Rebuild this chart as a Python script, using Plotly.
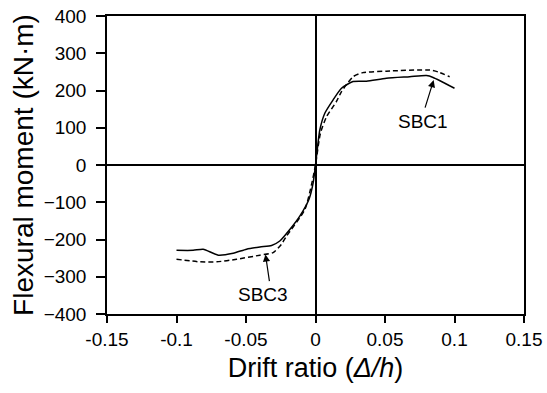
import plotly.graph_objects as go

# SBC1 (solid)
sbc1_x = [-0.100, -0.088, -0.0808, -0.070, -0.0592, -0.0496, -0.040, -0.0316, -0.0257,
          -0.0185, -0.0113, -0.0046, -0.0017, 0.0, 0.0031, 0.0067, 0.0127, 0.0187,
          0.027, 0.0367, 0.051, 0.0678, 0.0798, 0.0846, 0.100]
sbc1_y = [-229, -229, -226, -242, -237, -226, -220, -216, -204,
          -173, -137, -91, -48, 0, 94, 139, 175, 206,
          224, 225, 233, 237, 240, 235, 206]

# SBC3 (dashed)
sbc3_x = [-0.100, -0.083, -0.071, -0.0568, -0.040, -0.0305, -0.0245, -0.0209, -0.0077,
          -0.0030, 0.0, 0.0035, 0.0080, 0.015, 0.0187, 0.027, 0.034, 0.051, 0.0822,
          0.088, 0.0965]
sbc3_y = [-253, -260, -260, -253, -242, -235, -213, -191, -120,
          -55, 0, 85, 130, 170, 197, 237, 248, 252, 255,
          250, 237]

x_ticks = [-0.15, -0.1, -0.05, 0, 0.05, 0.1, 0.15]
x_tick_labels = ["-0.15", "-0.1", "-0.05", "0", "0.05", "0.1", "0.15"]
y_ticks = [-400, -300, -200, -100, 0, 100, 200, 300, 400]

font_family = "Liberation Sans, Arial, sans-serif"

fig = go.Figure()
fig.add_trace(go.Scatter(x=sbc1_x, y=sbc1_y, mode="lines", name="SBC1",
                         line=dict(color="black", width=1.5, shape="spline", smoothing=0.6)))
fig.add_trace(go.Scatter(x=sbc3_x, y=sbc3_y, mode="lines", name="SBC3",
                         line=dict(color="black", width=1.5, dash="5px,3px", shape="spline", smoothing=0.6)))

# labels and arrows
fig.add_annotation(x=0.0774, y=117, text="SBC1", showarrow=False,
                   font=dict(size=19, color="black", family=font_family))
fig.add_annotation(x=0.085, y=228, ax=0.0785, ay=150, axref="x", ayref="y",
                   xref="x", yref="y", text="", showarrow=True,
                   arrowhead=2, arrowsize=1.2, arrowwidth=1.2, arrowcolor="black")
fig.add_annotation(x=-0.0377, y=-347, text="SBC3", showarrow=False,
                   font=dict(size=19, color="black", family=font_family))
fig.add_annotation(x=-0.036, y=-240, ax=-0.033, ay=-316, axref="x", ayref="y",
                   xref="x", yref="y", text="", showarrow=True,
                   arrowhead=2, arrowsize=1.2, arrowwidth=1.2, arrowcolor="black")

fig.update_layout(
    width=547, height=393,
    margin=dict(l=107, r=23, t=16, b=79),
    paper_bgcolor="white", plot_bgcolor="white",
    showlegend=False,
    font=dict(family=font_family, color="black", size=19),
)
fig.update_xaxes(
    range=[-0.15, 0.15], tickvals=x_ticks, ticktext=x_tick_labels,
    showgrid=False, zeroline=True, zerolinecolor="black", zerolinewidth=1.5,
    showline=True, linecolor="black", linewidth=1.5, mirror=True,
    ticks="outside", ticklen=7, tickwidth=1.5, tickcolor="black",
    tickfont=dict(size=19), automargin=False,
    title=dict(text="Drift ratio (<i>Δ/h</i>)", font=dict(size=27), standoff=10),
)
fig.update_yaxes(
    range=[-400, 400], tickvals=y_ticks,
    showgrid=False, zeroline=True, zerolinecolor="black", zerolinewidth=1.5,
    showline=True, linecolor="black", linewidth=1.5, mirror=True,
    ticks="outside", ticklen=9, tickwidth=1.5, tickcolor="black",
    tickfont=dict(size=19), automargin=False, ticklabelstandoff=6,
    title=dict(text="Flexural moment (kN·m)", font=dict(size=28), standoff=2),
)

fig.write_html("out.html", config={"displayModeBar": False},
               post_script="document.body.style.margin='0px';")
